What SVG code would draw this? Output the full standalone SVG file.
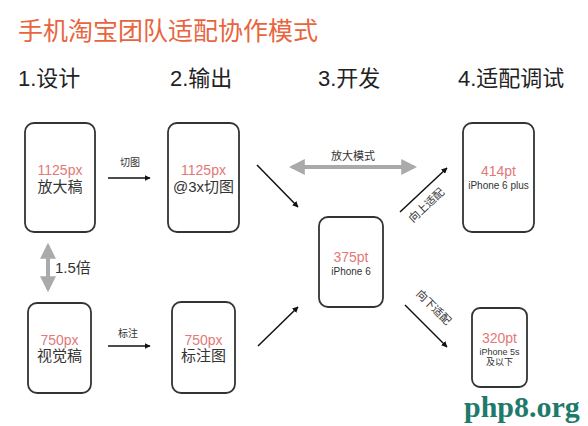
<svg xmlns="http://www.w3.org/2000/svg" width="588" height="426" viewBox="0 0 588 426">
<style>
text{font-family:"Liberation Sans","Noto Sans CJK SC",sans-serif;}
.title{font-size:25px;fill:#E8653E;}
.step{font-size:22px;fill:#222;}
.box{fill:#fff;stroke:#333;stroke-width:1.8;}
.red{font-size:14px;fill:#E37878;text-anchor:middle;}
.cn{font-size:15px;fill:#333;text-anchor:middle;}
.sm{font-size:10px;fill:#333;text-anchor:middle;}
.lbl{font-size:10px;fill:#333;text-anchor:middle;}
.arr{stroke:#111;stroke-width:1.5;fill:none;marker-end:url(#ah);}
.garr{stroke:#aaa;stroke-width:4;fill:none;marker-end:url(#gh);marker-start:url(#gs);}
</style>
<defs>
<marker id="ah" viewBox="0 0 10 10" refX="9" refY="5" markerWidth="6" markerHeight="6" markerUnits="userSpaceOnUse" orient="auto"><path d="M0,0 L10,5 L0,10 z" fill="#111"/></marker>
<marker id="gh" viewBox="0 0 10 10" refX="8" refY="5" markerWidth="4" markerHeight="4" orient="auto"><path d="M0,0 L10,5 L0,10 z" fill="#aaa"/></marker>
<marker id="gs" viewBox="0 0 10 10" refX="2" refY="5" markerWidth="4" markerHeight="4" orient="auto"><path d="M10,0 L0,5 L10,10 z" fill="#aaa"/></marker>
</defs>
<rect width="588" height="426" fill="#fff"/>
<text class="title" x="18" y="40">手机淘宝团队适配协作模式</text>
<text class="step" x="18" y="86">1.设计</text>
<text class="step" x="170" y="86">2.输出</text>
<text class="step" x="318" y="86">3.开发</text>
<text class="step" x="458" y="86">4.适配调试</text>

<g id="connectors">
<line class="arr" x1="108" y1="178" x2="150" y2="178"/>
<text class="lbl" x="130" y="166">切图</text>
<line class="arr" x1="108" y1="346" x2="150" y2="346"/>
<text class="lbl" x="128" y="337">标注</text>
<line class="garr" x1="48" y1="246" x2="48" y2="289"/>
<text x="55" y="273" style="font-size:15px;fill:#333">1.5倍</text>
<line class="garr" x1="292" y1="167" x2="414" y2="167"/>
<text class="lbl" x="353" y="160" style="font-size:11px">放大模式</text>
<line class="arr" x1="257" y1="165" x2="298" y2="207"/>
<line class="arr" x1="258" y1="346" x2="298" y2="307"/>
<line class="arr" x1="400" y1="212" x2="447" y2="168"/>
<text class="lbl" transform="translate(429,208) rotate(-43)" style="font-size:11px">向上适配</text>
<line class="arr" x1="405" y1="305" x2="447" y2="347"/>
<text class="lbl" transform="translate(431,310) rotate(45)" style="font-size:11px">向下适配</text>
</g>

<g id="n1125">
<rect class="box" x="25" y="123" width="70" height="109" rx="9"/>
<text class="red" x="60" y="175">1125px</text>
<text class="cn" x="60" y="192">放大稿</text>
</g>
<g id="n1125cut">
<rect class="box" x="168" y="123" width="71" height="109" rx="9"/>
<text class="red" x="203.5" y="175">1125px</text>
<text class="cn" x="203.5" y="192">@3x切图</text>
</g>
<g id="n750">
<rect class="box" x="28" y="303" width="63" height="90" rx="9"/>
<text class="red" x="59.5" y="345">750px</text>
<text class="cn" x="59.5" y="361">视觉稿</text>
</g>
<g id="n750mark">
<rect class="box" x="172" y="302" width="63" height="91" rx="9"/>
<text class="red" x="203.5" y="345">750px</text>
<text class="cn" x="203.5" y="361">标注图</text>
</g>
<g id="n375">
<rect class="box" x="319" y="217" width="64" height="90" rx="9"/>
<text class="red" x="351" y="262">375pt</text>
<text class="sm" x="351" y="275">iPhone 6</text>
</g>
<g id="n414">
<rect class="box" x="463" y="123" width="71" height="109" rx="9"/>
<text class="red" x="498.5" y="176">414pt</text>
<text class="sm" x="498.5" y="189">iPhone 6 plus</text>
</g>
<g id="n320">
<rect class="box" x="472" y="308" width="55" height="79" rx="8"/>
<text class="red" x="499.5" y="343">320pt</text>
<text class="sm" x="499.5" y="355" style="font-size:9px">iPhone 5s</text>
<text class="sm" x="499.5" y="365" style="font-size:9px">及以下</text>
</g>
<text x="464" y="417" style="font-family:'Liberation Serif',serif;font-weight:bold;font-size:30px;fill:#1E7A6A">php8.org</text>
</svg>
